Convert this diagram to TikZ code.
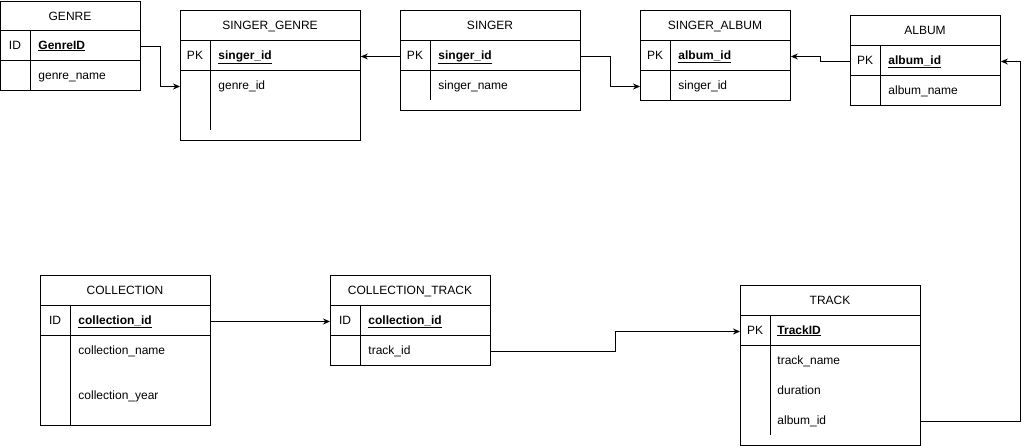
\documentclass[tikz,border=0pt]{standalone}
\usepackage{fontspec}
\setmainfont{Liberation Sans}
\usetikzlibrary{arrows.meta}

\begin{document}
\begin{tikzpicture}[x=1pt, y=-1pt, line width=0.9pt,
  every node/.style={font=\fontsize{12}{14}\selectfont, inner sep=0pt},
  tbl/.style n args={2}{draw, anchor=north west, minimum width=#1, minimum height=#2},
  hd/.style={anchor=mid, yshift=-2pt},
  key/.style={anchor=mid, yshift=-1.5pt},
  fld/.style={anchor=mid west, yshift=-1.5pt},
  kfld/.style={fld, font=\fontsize{12}{14}\selectfont\bfseries},
  fk/.style={-{Stealth[length=7pt,width=6pt]}}]
  \useasboundingbox (0,0) rectangle (1029,446);

  % GENRE
  \node [tbl={140}{89}] (tGenre) at (0,1) {};
  \node [hd] (hGenre) at (70,16) {GENRE};
  \node [key] (kGenre) at (15,45) {ID};
  \node [kfld] (fGenreID) at (38,45) {\underline{GenreID}};
  \node [fld] (fGenreName) at (38,75) {genre\_name};
  \draw (0,30) -- (140,30) (0,60) -- (140,60) (30,30) -- (30,90);

  % SINGER_GENRE
  \node [tbl={180}{130}] (tSingerGenre) at (180,10) {};
  \node [hd] (hSingerGenre) at (270,25) {SINGER\_GENRE};
  \node [key] (kSingerGenre) at (195,55) {PK};
  \node [kfld] (fSGSinger) at (218,55) {\underline{singer\_id}};
  \node [fld] (fSGGenre) at (218,85) {genre\_id};
  \draw (180,40) -- (360,40) (180,70) -- (360,70) (210,40) -- (210,130);

  % SINGER
  \node [tbl={180}{100}] (tSinger) at (400,10) {};
  \node [hd] (hSinger) at (490,25) {SINGER};
  \node [key] (kSinger) at (415,55) {PK};
  \node [kfld] (fSingerId) at (438,55) {\underline{singer\_id}};
  \node [fld] (fSingerName) at (438,85) {singer\_name};
  \draw (400,40) -- (580,40) (400,70) -- (580,70) (430,40) -- (430,100);

  % SINGER_ALBUM
  \node [tbl={150}{90}] (tSingerAlbum) at (640,10) {};
  \node [hd] (hSingerAlbum) at (715,25) {SINGER\_ALBUM};
  \node [key] (kSingerAlbum) at (655,55) {PK};
  \node [kfld] (fSAAlbum) at (678,55) {\underline{album\_id}};
  \node [fld] (fSASinger) at (678,85) {singer\_id};
  \draw (640,40) -- (790,40) (640,70) -- (790,70) (670,40) -- (670,100);

  % ALBUM
  \node [tbl={150}{90}] (tAlbum) at (850,15) {};
  \node [hd] (hAlbum) at (925,30) {ALBUM};
  \node [key] (kAlbum) at (865,60) {PK};
  \node [kfld] (fAlbumId) at (888,60) {\underline{album\_id}};
  \node [fld] (fAlbumName) at (888,90) {album\_name};
  \draw (850,45) -- (1000,45) (850,75) -- (1000,75) (880,45) -- (880,105);

  % COLLECTION
  \node [tbl={170}{150}] (tColl) at (40,275) {};
  \node [hd] (hColl) at (125,290) {COLLECTION};
  \node [key] (kColl) at (55,320) {ID};
  \node [kfld] (fCollId) at (78,320) {\underline{collection\_id}};
  \node [fld] (fCollName) at (78,350) {collection\_name};
  \node [fld] (fCollYear) at (78,395) {collection\_year};
  \draw (40,305) -- (210,305) (40,335) -- (210,335) (70,305) -- (70,425);

  % COLLECTION_TRACK
  \node [tbl={160}{90}] (tCollTrack) at (330,275) {};
  \node [hd] (hCollTrack) at (410,290) {COLLECTION\_TRACK};
  \node [key] (kCollTrack) at (345,320) {ID};
  \node [kfld] (fCTColl) at (368,320) {\underline{collection\_id}};
  \node [fld] (fCTTrack) at (368,350) {track\_id};
  \draw (330,305) -- (490,305) (330,335) -- (490,335) (360,305) -- (360,365);

  % TRACK
  \node [tbl={180}{160}] (tTrack) at (740,285) {};
  \node [hd] (hTrack) at (830,300) {TRACK};
  \node [key] (kTrack) at (755,330) {PK};
  \node [kfld] (fTrackID) at (777,330) {\underline{TrackID}};
  \node [fld] (fTrackName) at (777,360) {track\_name};
  \node [fld] (fDuration) at (777,390) {duration};
  \node [fld] (fTrackAlbum) at (777,420) {album\_id};
  \draw (740,315) -- (920,315) (740,345) -- (920,345) (770,315) -- (770,435);

  % foreign keys
  \draw [fk] (fGenreID.mid -| tGenre.east) -- ++(20,0) |- (fSGGenre.mid -| tSingerGenre.west);
  \draw [fk] (fSingerId.mid -| tSinger.west) -- (fSGSinger.mid -| tSingerGenre.east);
  \draw [fk] (fSingerId.mid -| tSinger.east) -- ++(30,0) |- (fSASinger.mid -| tSingerAlbum.west);
  \draw [fk] (fAlbumId.mid -| tAlbum.west) -- ++(-30,0) |- (fSAAlbum.mid -| tSingerAlbum.east);
  \draw [fk] (fTrackAlbum.mid -| tTrack.east) -- ++(100,0) |- (fAlbumId.mid -| tAlbum.east);
  \draw [fk] (fCollId.mid -| tColl.east) -- (fCTColl.mid -| tCollTrack.west);
  \draw [fk] (fCTTrack.mid -| tCollTrack.east) -- ++(125,0) |- (fTrackID.mid -| tTrack.west);
\end{tikzpicture}
\end{document}
